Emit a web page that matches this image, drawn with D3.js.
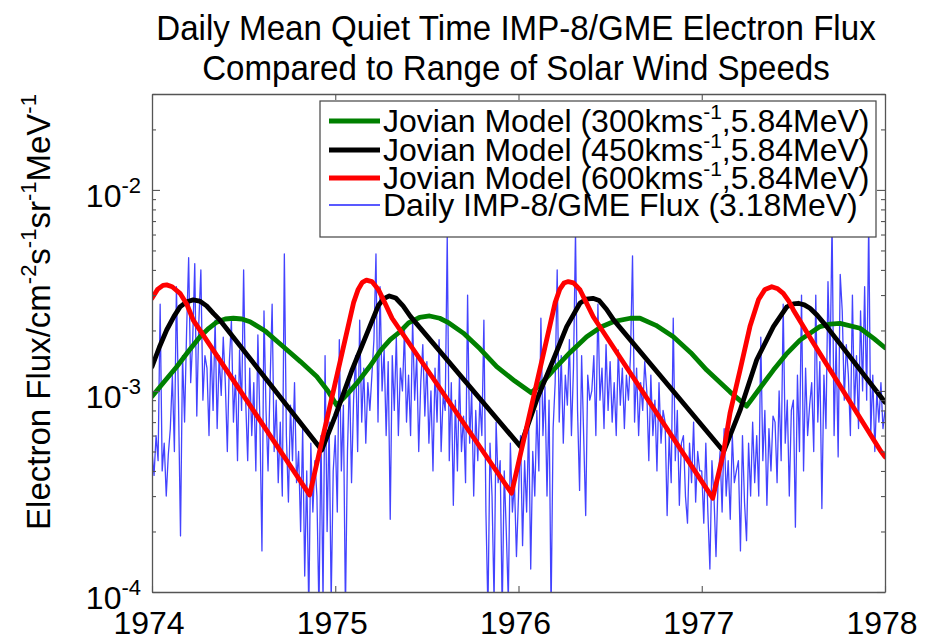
<!DOCTYPE html>
<html><head><meta charset="utf-8">
<script src="https://cdn.jsdelivr.net/npm/d3@7"></script>
<style>
body{margin:0;background:#fff}
svg{display:block}
text{font-family:"Liberation Sans",Arial,Helvetica,sans-serif;fill:#000}
</style>
</head><body>
<svg id="chart" width="926" height="640"></svg>
<script>
// ---------------- DATA ----------------
const titleLines = ["Daily Mean Quiet Time IMP-8/GME Electron Flux",
                    "Compared to Range of Solar Wind Speeds"];
const xTickYears = [1974, 1975, 1976, 1977, 1978];
const yMajorTicks = [1e-4, 1e-3, 1e-2];
const yMajorExponents = ["-4", "-3", "-2"];
const yMinorTicks = [2e-4,3e-4,4e-4,5e-4,6e-4,7e-4,8e-4,9e-4,
                     2e-3,3e-3,4e-3,5e-3,6e-3,7e-3,8e-3,9e-3,
                     2e-2,3e-2];
const yLabelParts = [["Electron Flux/cm",0],["-2",1],["s",0],["-1",1],["sr",0],["-1",1],["MeV",0],["-1",1]];

const legendLabels = [
  [["Jovian Model (300kms",0],["-1",1],[",5.84MeV)",0]],
  [["Jovian Model (450kms",0],["-1",1],[",5.84MeV)",0]],
  [["Jovian Model (600kms",0],["-1",1],[",5.84MeV)",0]],
  [["Daily IMP-8/GME Flux (3.18MeV)",0]]
];
const seriesColors = ["#008000", "#000000", "#ff0000", "#2222ff"];

// Jovian model, 300 km/s  [year, flux]
const model300 = [
 [1974.00,9.4e-4],[1974.07,1.12e-3],[1974.135,1.32e-3],[1974.20,1.58e-3],[1974.262,1.86e-3],
 [1974.31,2.05e-3],[1974.353,2.2e-3],[1974.40,2.28e-3],[1974.444,2.30e-3],[1974.49,2.28e-3],
 [1974.535,2.21e-3],[1974.62,1.98e-3],[1974.717,1.66e-3],[1974.81,1.4e-3],[1974.899,1.18e-3],
 [1974.96,1.0e-3],[1975.008,8.5e-4],[1975.06,9.5e-4],[1975.117,1.09e-3],[1975.19,1.33e-3],
 [1975.25,1.6e-3],[1975.30,1.8e-3],[1975.353,1.97e-3],[1975.40,2.18e-3],[1975.46,2.32e-3],
 [1975.515,2.36e-3],[1975.57,2.3e-3],[1975.62,2.18e-3],[1975.699,1.94e-3],[1975.79,1.62e-3],
 [1975.881,1.32e-3],[1975.98,1.12e-3],[1976.07,9.8e-4],[1976.13,1.1e-3],[1976.19,1.27e-3],
 [1976.28,1.55e-3],[1976.372,1.86e-3],[1976.45,2.08e-3],[1976.517,2.21e-3],[1976.61,2.30e-3],
 [1976.663,2.30e-3],[1976.75,2.12e-3],[1976.845,1.86e-3],[1976.94,1.55e-3],[1977.027,1.27e-3],
 [1977.154,9.9e-4],[1977.245,8.4e-4],[1977.32,1.04e-3],[1977.391,1.27e-3],[1977.46,1.52e-3],
 [1977.536,1.79e-3],[1977.645,2.09e-3],[1977.70,2.15e-3],[1977.755,2.17e-3],[1977.864,2.05e-3],
 [1977.94,1.82e-3],[1978.00,1.64e-3]
];
// Jovian model, 450 km/s
const model450 = [
 [1974.00,1.32e-3],[1974.04,1.65e-3],[1974.08,2.01e-3],[1974.12,2.35e-3],[1974.153,2.62e-3],
 [1974.19,2.78e-3],[1974.225,2.84e-3],[1974.26,2.8e-3],[1974.298,2.65e-3],[1974.335,2.43e-3],
 [1974.371,2.25e-3],[1974.926,5.08e-4],
 [1975.00,7.5e-4],[1975.09,1.26e-3],[1975.18,2.0e-3],[1975.235,2.66e-3],[1975.265,2.88e-3],
 [1975.295,2.97e-3],[1975.33,2.9e-3],[1975.37,2.65e-3],[1975.41,2.35e-3],[1976.01,5.3e-4],
 [1976.099,9.0e-4],[1976.19,1.43e-3],[1976.263,2.09e-3],[1976.336,2.74e-3],[1976.37,2.86e-3],
 [1976.406,2.89e-3],[1976.44,2.82e-3],[1976.48,2.55e-3],[1976.52,2.25e-3],[1977.12,5.0e-4],
 [1977.209,8.0e-4],[1977.30,1.43e-3],[1977.391,2.09e-3],[1977.464,2.62e-3],[1977.50,2.71e-3],
 [1977.527,2.73e-3],[1977.56,2.68e-3],[1977.591,2.58e-3],[1977.63,2.38e-3],[1977.682,2.09e-3],
 [1977.991,9.0e-4],[1978.00,8.8e-4]
];
// Jovian model, 600 km/s
const model600 = [
 [1974.00,2.89e-3],[1974.03,3.2e-3],[1974.06,3.35e-3],[1974.08,3.37e-3],[1974.11,3.3e-3],
 [1974.153,3.06e-3],[1974.19,2.7e-3],[1974.225,2.25e-3],[1974.86,3.04e-4],
 [1975.10,2.75e-3],[1975.125,3.2e-3],[1975.148,3.47e-3],[1975.17,3.56e-3],[1975.20,3.5e-3],[1975.235,3.2e-3],
 [1975.27,2.75e-3],[1975.31,2.3e-3],[1975.962,3.1e-4],
 [1976.20,2.75e-3],[1976.225,3.2e-3],[1976.248,3.44e-3],[1976.272,3.5e-3],[1976.30,3.45e-3],[1976.336,3.18e-3],
 [1976.37,2.75e-3],[1976.408,2.34e-3],[1977.06,2.93e-4],
 [1977.118,4.9e-4],[1977.154,7.74e-4],[1977.209,1.27e-3],[1977.263,2.09e-3],[1977.31,2.85e-3],
 [1977.345,3.2e-3],[1977.382,3.3e-3],[1977.415,3.22e-3],[1977.445,3.06e-3],[1977.475,2.8e-3],
 [1977.50,2.53e-3],[1977.609,1.73e-3],[1977.973,5.08e-4],[1978.00,4.7e-4]
];
// Daily IMP-8/GME flux, sampled evenly from 1974.0 to 1978.0, in units of 1e-5
const fluxUnit = 1e-5;
const fluxStart = 1974, fluxEnd = 1978;
const fluxValues = [
 50,38,60,45,270,40,55,30,48,
 65,120,50,330,90,19,150,70,200,
 460,110,180,430,75,220,400,90,150,
 130,60,170,80,225,65,150,95,185,
 110,50,140,225,70,120,45,160,80,
 400,90,45,130,60,110,40,190,70,
 16,250,80,40,110,270,50,90,35,
 70,30,480,60,28,85,45,110,35,
 50,20,65,12,40,8,55,25,45,
 30,8,60,9,150,20,70,9,40,
 60,25,180,40,85,8,50,120,35,
 90,150,50,225,70,130,55,110,80,
 120,180,480,70,330,100,160,60,140,
 23,150,80,185,60,130,100,200,70,
 120,60,225,90,150,50,110,170,75,
 140,55,100,40,130,70,180,50,95,
 80,600,45,110,27,90,40,120,50,
 75,35,300,55,100,30,80,45,90,
 60,225,25,8,55,30,9,70,35,
 45,8,40,20,9,55,25,35,15,
 30,60,17,45,25,70,13,50,30,
 80,40,230,60,105,30,90,8,65,
 110,400,70,150,55,120,85,180,60,
 130,620,80,32,150,60,24,120,90,
 100,150,60,270,90,130,65,170,80,
 140,70,110,60,160,85,130,65,120,
 90,150,470,70,130,60,110,80,140,
 100,45,120,60,90,40,110,55,80,
 70,24,60,35,230,45,80,27,55,
 60,30,22,55,35,70,28,50,40,
 40,22,55,25,13,45,30,15,35,
 50,25,65,30,45,23,60,35,40,
 45,16,60,28,18,55,30,70,35,
 60,30,185,45,80,27,65,40,75,
 70,35,100,45,270,55,90,30,80,
 90,21,120,50,300,40,130,60,85,
 110,50,300,70,140,26,120,65,350,
 130,700,60,180,47,380,250,90,170,
 120,60,300,80,150,65,250,100,330,
 90,700,60,120,50,100,70,110,65,
 80
];

// ---------------- CHART ----------------
const svg = d3.select("#chart");
const P = {left:152, right:885, top:94, bottom:592};
const axisColor = "#555";

const x = d3.scaleLinear().domain([1974,1978]).range([P.left,P.right]);
const y = d3.scaleLog().domain([1e-4,0.03]).range([P.bottom,P.top]);

svg.append("defs").append("clipPath").attr("id","plotclip")
  .append("rect").attr("x",P.left).attr("y",P.top)
  .attr("width",P.right-P.left).attr("height",P.bottom-P.top);

// Title (slightly condensed, like the reference)
svg.append("g").selectAll("text").data(titleLines).join("text")
  .attr("transform",(d,i)=>`translate(516,${40+i*40}) scale(0.92,1)`)
  .attr("text-anchor","middle")
  .attr("font-size",36)
  .text(d=>d);

// Series
const plot = svg.append("g").attr("clip-path","url(#plotclip)");
const fluxStep = (fluxEnd-fluxStart)/(fluxValues.length-1);
const fluxSeries = fluxValues.map((v,i)=>[fluxStart+i*fluxStep, v*fluxUnit]);
const line = d3.line().x(d=>x(d[0])).y(d=>y(d[1]));

plot.append("path").datum(fluxSeries)
  .attr("d",line).attr("fill","none")
  .attr("stroke",seriesColors[3]).attr("stroke-width",1.3).attr("stroke-opacity",0.85)
  .attr("stroke-linejoin","round");

[[model300,seriesColors[0]],[model450,seriesColors[1]],[model600,seriesColors[2]]].forEach(([data,col])=>{
  plot.append("path").datum(data)
    .attr("d",line).attr("fill","none")
    .attr("stroke",col).attr("stroke-width",4.8)
    .attr("stroke-linejoin","round").attr("stroke-linecap","round");
});

// Axes
const allYTicks = yMajorTicks.concat(yMinorTicks);
const isMajor = v => yMajorTicks.includes(v);

const gx = svg.append("g").attr("transform",`translate(0,${P.bottom})`)
  .call(d3.axisBottom(x).tickValues(xTickYears).tickSize(-6).tickSizeOuter(0).tickFormat(()=>""));
const gxt = svg.append("g").attr("transform",`translate(0,${P.top})`)
  .call(d3.axisTop(x).tickValues(xTickYears).tickSize(-6).tickSizeOuter(0).tickFormat(()=>""));
const gy = svg.append("g").attr("transform",`translate(${P.left},0)`)
  .call(d3.axisLeft(y).tickValues(allYTicks).tickSize(-4).tickSizeOuter(0).tickFormat(()=>""));
const gyr = svg.append("g").attr("transform",`translate(${P.right},0)`)
  .call(d3.axisRight(y).tickValues(allYTicks).tickSize(-4).tickSizeOuter(0).tickFormat(()=>""));
gy.selectAll(".tick line").attr("x2",d=>isMajor(d)?8:4);
gyr.selectAll(".tick line").attr("x2",d=>isMajor(d)?-8:-4);
[gx,gxt,gy,gyr].forEach(g=>{
  g.selectAll("path.domain").attr("stroke",axisColor).attr("stroke-width",1.3);
  g.selectAll(".tick line").attr("stroke",axisColor).attr("stroke-width",1.1);
});

// X tick labels
svg.append("g").selectAll("text").data(xTickYears).join("text")
  .attr("x",d=>x(d)-3).attr("y",634)
  .attr("text-anchor","middle").attr("font-size",32)
  .text(d=>d);

// Y tick labels
const yl = svg.append("g").selectAll("text").data(yMajorTicks).join("text")
  .attr("x",P.left-11).attr("y",d=>y(d)+17)
  .attr("text-anchor","end").attr("font-size",32);
yl.append("tspan").text("10");
yl.append("tspan").attr("dy",-14).attr("font-size",22).text((d,i)=>yMajorExponents[i]);

// Y axis label
const ylab = svg.append("text")
  .attr("transform","translate(50,312) rotate(-90)")
  .attr("text-anchor","middle").attr("font-size",33);
let prevSup = 0;
yLabelParts.forEach(([t,sup])=>{
  const ts = ylab.append("tspan").text(t);
  if(sup){ ts.attr("font-size",22).attr("dy",-14); }
  else if(prevSup){ ts.attr("dy",14); }
  prevSup = sup;
});

// Legend
const L = {x:320, y:101, w:556, h:136, rows:[121,150,178,205], lx1:329, lx2:380, tx:383};
const lg = svg.append("g");
lg.append("rect").attr("x",L.x).attr("y",L.y).attr("width",L.w).attr("height",L.h)
  .attr("fill","#fff").attr("stroke","#444").attr("stroke-width",1.2);
legendLabels.forEach((parts,i)=>{
  const ry = L.rows[i];
  lg.append("line").attr("x1",L.lx1).attr("x2",L.lx2).attr("y1",ry).attr("y2",ry)
    .attr("stroke",seriesColors[i]).attr("stroke-width",i<3?4.8:1.3);
  const t = lg.append("text").attr("x",L.tx).attr("y",ry+11).attr("font-size",32);
  let ps = 0;
  parts.forEach(([s,sup])=>{
    const ts = t.append("tspan").text(s);
    if(sup){ ts.attr("font-size",21).attr("dy",-13); }
    else if(ps){ ts.attr("dy",13); }
    ps = sup;
  });
});
</script>
</body></html>
